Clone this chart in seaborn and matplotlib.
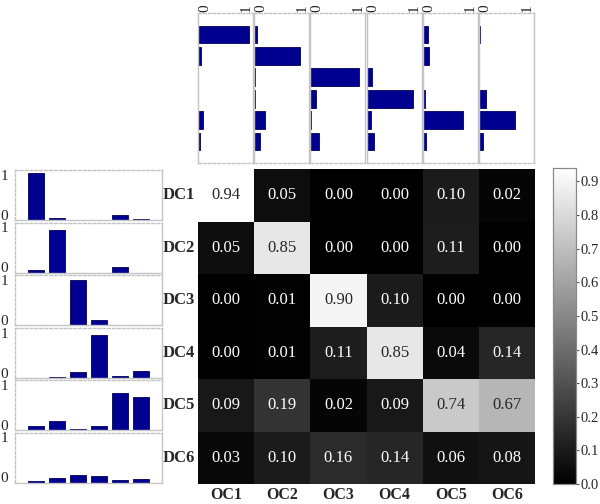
import matplotlib
matplotlib.use("Agg")
import matplotlib.pyplot as plt
import seaborn as sns
import pandas as pd

# ---- data ----
dc_labels = ["DC1", "DC2", "DC3", "DC4", "DC5", "DC6"]
oc_labels = ["OC1", "OC2", "OC3", "OC4", "OC5", "OC6"]
dc1 = [0.94, 0.05, 0.00, 0.00, 0.10, 0.02]
dc2 = [0.05, 0.85, 0.00, 0.00, 0.11, 0.00]
dc3 = [0.00, 0.01, 0.90, 0.10, 0.00, 0.00]
dc4 = [0.00, 0.01, 0.11, 0.85, 0.04, 0.14]
dc5 = [0.09, 0.19, 0.02, 0.09, 0.74, 0.67]
dc6 = [0.03, 0.10, 0.16, 0.14, 0.06, 0.08]
cbar_ticks = [0.0, 0.1, 0.2, 0.3, 0.4, 0.5, 0.6, 0.7, 0.8, 0.9]
bar_ticks = [0, 1]

sns.set_style("white")
plt.rcParams["font.family"] = ["Liberation Serif", "DejaVu Serif"]

df = pd.DataFrame([dc1, dc2, dc3, dc4, dc5, dc6], index=dc_labels, columns=oc_labels)

W, H = 600, 504
fig = plt.figure(figsize=(6, 5.04), dpi=100)

def fr(x0, y0, x1, y1):
    return [x0 / W, 1 - y1 / H, (x1 - x0) / W, (y1 - y0) / H]

bar_color = "#000090"
spine_col = "#c4c4c4"

# heatmap
hm_l, hm_r, hm_t, hm_b = 198, 535, 169, 484
ax = fig.add_axes(fr(hm_l, hm_t, hm_r, hm_b))
cax = fig.add_axes(fr(553, 168, 576, 484))
sns.heatmap(df, ax=ax, cmap="gray", vmin=0, vmax=0.94, annot=True, fmt=".2f",
            annot_kws={"fontsize": 12}, cbar_ax=cax,
            cbar_kws={"ticks": cbar_ticks})
ax.tick_params(length=0, pad=2)
ax.set_yticklabels(dc_labels, rotation=0, fontsize=12, fontweight="bold")
ax.set_xticklabels(oc_labels, rotation=0, fontsize=11.5, fontweight="bold")
ax.set_xlabel("")
ax.set_ylabel("")
cax.tick_params(labelsize=10.5, length=2, width=0.8, color="#555555",
                direction="out", pad=1.5)
cax.yaxis.set_major_formatter(matplotlib.ticker.FormatStrFormatter("%.1f"))
for s in cax.spines.values():
    s.set_visible(True)
    s.set_color("#888888")
    s.set_linewidth(0.8)

col_w = (hm_r - hm_l) / 6
row_h = (hm_b - hm_t) / 6

def style_panel(a, dashed_sides):
    for name, s in a.spines.items():
        s.set_visible(True)
        s.set_color(spine_col)
        s.set_linewidth(1.0)
        if name in dashed_sides:
            s.set_linestyle((0, (2, 1.5)))

# top panels: columns (OC) as horizontal bars
for j, oc in enumerate(oc_labels):
    x0 = hm_l + j * col_w
    a = fig.add_axes(fr(x0, 13, x0 + 55, 163))
    sns.barplot(x=df[oc].values, y=dc_labels, ax=a, color=bar_color, saturation=1,
                orient="h", width=0.83, edgecolor="#00005a", linewidth=0.6)
    a.set_xlim(0, 1.01)
    a.set_ylim(6, -1)
    a.set_yticks([])
    a.xaxis.tick_top()
    a.set_xticks(bar_ticks)
    a.set_xticklabels([str(t) for t in bar_ticks], fontsize=11)
    a.tick_params(axis="x", length=0, pad=1)
    for tk, ha in zip(a.xaxis.get_major_ticks(), ["left", "right"]):
        tk.label2.set_rotation(90)
        tk.label2.set_ha(ha)
    a.set_xlabel("")
    a.set_ylabel("")
    style_panel(a, ["top", "bottom"])

# left panels: rows (DC) as vertical bars
for i, dc in enumerate(dc_labels):
    y0 = hm_t + i * row_h + 1
    a = fig.add_axes(fr(15, y0, 162, y0 + row_h - 2.5))
    sns.barplot(x=oc_labels, y=df.loc[dc].values, ax=a, color=bar_color, saturation=1,
                width=0.76, edgecolor="#00005a", linewidth=0.6)
    a.set_xlim(-1, 6)
    a.set_ylim(0, 1.0)
    a.set_xticks([])
    a.set_yticks(bar_ticks)
    a.set_yticklabels([str(t) for t in bar_ticks], fontsize=11)
    a.tick_params(axis="y", length=0, pad=5)
    for tk, va in zip(a.yaxis.get_major_ticks(), ["baseline", "top"]):
        tk.label1.set_va(va)
    a.set_xlabel("")
    a.set_ylabel("")
    style_panel(a, ["top", "left"])

fig.savefig("out.png", dpi=100)
